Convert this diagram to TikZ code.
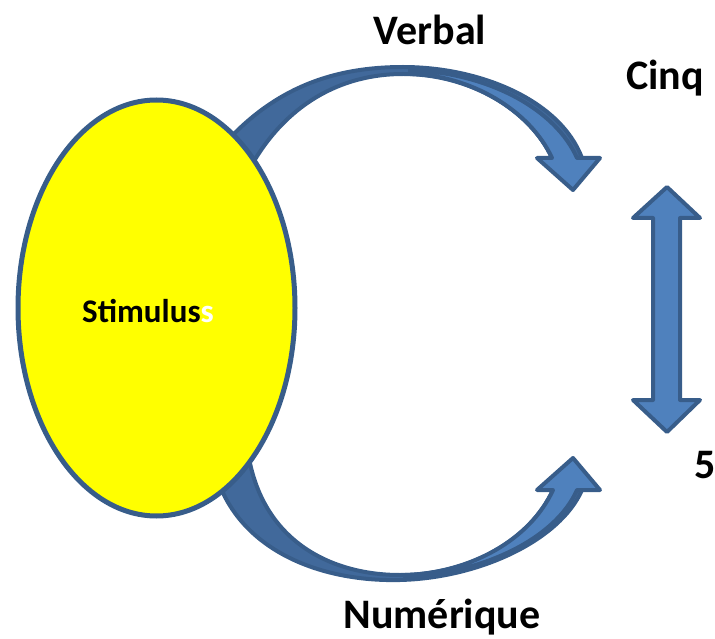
\documentclass[tikz,border=0pt]{standalone}
\usepackage{fontspec}
\setmainfont{Carlito}
\usepackage{xcolor}
\usetikzlibrary{shapes.geometric}
\definecolor{stimfill}{RGB}{255,255,0}
\definecolor{arrowfront}{RGB}{79,129,189}
\definecolor{arrowback}{RGB}{65,105,155}
\definecolor{arrowline}{RGB}{56,93,138}
\tikzset{
  stimbox/.style={
    ellipse,
    draw=arrowline,
    line width=5pt,
    fill=stimfill,
    minimum width=277pt,
    minimum height=416pt,
    inner sep=0pt
  },
  backpart/.style={fill=arrowback, draw=arrowline, line width=4pt, line join=round},
  frontpart/.style={fill=arrowfront, draw=arrowline, line width=4pt, line join=round},
  label/.style={font=\bfseries\fontsize{42}{42}\selectfont, anchor=base, inner sep=0pt}
}
\begin{document}
\begin{tikzpicture}[x=1pt, y=-1pt]
  \useasboundingbox (0,0) rectangle (715,639);

  % upper curved arrow
  \draw[backpart] (228,140) .. controls (275,90) and (330,67) .. (403,67)
    .. controls (480,67) and (560,100) .. (582,158) -- (552,158)
    .. controls (530,110) and (470,74) .. (403,74)
    .. controls (340,74) and (285,105) .. (250,168) -- cycle;
  \draw[frontpart] (410,70) .. controls (490,73) and (556,110) .. (577,158)
    -- (600,158) -- (573,190) -- (537,158) -- (552,158)
    .. controls (530,110) and (470,75) .. (410,74) -- cycle;

  % lower curved arrow
  \draw[backpart] (214,468) .. controls (235,550) and (320,582) .. (400,580)
    .. controls (480,578) and (560,540) .. (582,490) -- (553,490)
    .. controls (530,540) and (470,575) .. (400,575)
    .. controls (330,575) and (258,540) .. (247,445) -- cycle;
  \draw[frontpart] (405,577) .. controls (480,574) and (555,540) .. (577,490)
    -- (600,490) -- (573,458) -- (537,490) -- (553,490)
    .. controls (530,540) and (470,573) .. (405,575) -- cycle;

  % double arrow
  \draw[frontpart] (667,187) -- (700,218) -- (680,218) -- (680,400) -- (700,400)
    -- (667,432) -- (633,400) -- (653,400) -- (653,218) -- (633,218) -- cycle;

  \node[stimbox] (stim) at (156.5,308) {};
  \node[anchor=base west, inner sep=0pt, font=\bfseries\fontsize{33}{33}\selectfont]
    (stimtext) at (82,322) {Stimulus\textcolor{white}{s}};

  \node[label] (verbal) at (430,45) {Verbal};
  \node[label] (cinq) at (665,90) {Cinq};
  \node[label] (five) at (705,478) {5};
  \node[label] (numerique) at (442,628) {Numérique};
\end{tikzpicture}
\end{document}
